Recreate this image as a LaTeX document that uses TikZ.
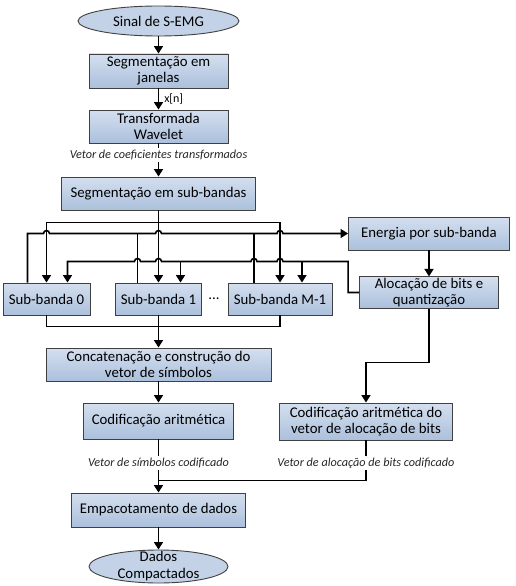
\documentclass[tikz,border=0pt]{standalone}
\usepackage{fontspec}
\setmainfont{Carlito}
\usepackage{xcolor}
\usepackage{tikz}
\usetikzlibrary{positioning}
\usetikzlibrary{arrows.meta, shapes.geometric, calc}

\definecolor{caixaTopo}{HTML}{D4DFEF}
\definecolor{caixaBase}{HTML}{ABC0DC}
\definecolor{elipse}{HTML}{C3D2E7}
\definecolor{borda}{HTML}{404040}

\tikzset{
    bloco/.style={draw=borda, line width=0.9pt, top color=caixaTopo, bottom color=caixaBase,
        align=center, inner sep=1pt, font=\fontsize{14.8}{16.5}\selectfont},
    terminal/.style={ellipse, draw=borda, line width=0.9pt, fill=elipse, align=center,
        inner sep=0pt, font=\fontsize{14.8}{16.5}\selectfont},
    rotulo/.style={font=\fontsize{12.2}{13}\selectfont\itshape, inner sep=2pt, text=black!85},
    seta/.style={line width=1.6pt, -{Triangle[length=7.5pt,width=9pt]}},
    linha/.style={line width=1.6pt},
}

\begin{document}
\begin{tikzpicture}[x=1pt,y=-1pt]
    \useasboundingbox (0,0) rectangle (515,586);

    % coluna principal
    \node[terminal, minimum width=161pt, minimum height=30pt] (sinal) at (158.5,21) {Sinal de S-EMG};
    \node[bloco, minimum width=139pt, minimum height=34pt] (janelas) at (158.5,71) {Segmentação em\\janelas};
    \node[bloco, minimum width=139pt, minimum height=33pt] (wavelet) at (158.5,126.5) {Transformada\\Wavelet};
    \node[rotulo] (coef) at (158.5,155) {Vetor de coeficientes transformados};
    \node[bloco, minimum width=194pt, minimum height=33pt] (subbandas) at (158.5,193.5) {Segmentação em sub-bandas};

    % sub-bandas
    \node[bloco, minimum width=87pt, minimum height=32pt] (sb0) at (46.5,299) {Sub-banda 0};
    \node[bloco, minimum width=86pt, minimum height=32pt] (sb1) at (158.5,299) {Sub-banda 1};
    \node[font=\fontsize{14.8}{16.5}\selectfont] (pontos) at (214,299) {...};
    \node[bloco, minimum width=104pt, minimum height=32pt] (sbM) at (280,299) {Sub-banda M-1};

    % ramo da direita
    \node[bloco, minimum width=161pt, minimum height=33pt] (energia) at (429,233.5) {Energia por sub-banda};
    \node[bloco, minimum width=139pt, minimum height=31pt] (alocacao) at (429,292.5) {Alocação de bits e\\quantização};

    \node[bloco, minimum width=225pt, minimum height=33pt] (concat) at (158.5,364.5) {Concatenação e construção do\\vetor de símbolos};
    \node[bloco, minimum width=150pt, minimum height=36pt] (codar) at (158.5,421) {Codificação aritmética};
    \node[bloco, minimum width=173pt, minimum height=37pt] (codbits) at (366,421.5) {Codificação aritmética do\\vetor de alocação de bits};
    \node[rotulo] (vsimb) at (158.5,463) {Vetor de símbolos codificado};
    \node[rotulo] (vbits) at (366,463) {Vetor de alocação de bits codificado};
    \node[bloco, minimum width=174pt, minimum height=34pt] (empac) at (158.5,510) {Empacotamento de dados};
    \node[terminal, minimum width=139pt, minimum height=33pt,
        label={[font=\fontsize{14.8}{17}\selectfont, align=center]center:Dados\\Compactados}] (dados) at (158.5,566.5) {};

    % pontos auxiliares
    \coordinate (s0) at ($(sb0.north)+(-19,0)$);
    \coordinate (s1) at ($(sb1.north)+(-21,0)$);
    \coordinate (sM) at ($(sbM.north)+(-26,0)$);
    \coordinate (e0) at ($(sb0.north)+(21,0)$);
    \coordinate (e1) at ($(sb1.north)+(22,0)$);
    \coordinate (eM) at ($(sbM.north)+(22,0)$);
    \coordinate (barraA) at ($(subbandas.south)+(0,12)$);
    \coordinate (barraB) at ($(subbandas.south)+(0,51)$);
    \coordinate (barraC) at ($(sb1.south)+(0,11)$);
    \coordinate (juncao) at ($(empac.north)+(0,-12)$);

    % ligacoes
    \draw[seta] (sinal) -- (janelas);
    \draw[seta] (janelas) -- node[right, font=\fontsize{12}{13}\selectfont, inner sep=5pt] {x[n]} (wavelet);
    \draw[linha] (wavelet) -- (coef);
    \draw[seta] (coef) -- (subbandas);

    \draw[seta] (subbandas.south) -- (sb1.north);
    \draw[seta] (barraA) -| (sb0.north);
    \draw[seta] (barraA) -| (sbM.north);

    % energia
    \draw[seta] (s0) |- ($(sb0.north |- energia.west)+(-3,0)$)
        arc[start angle=180, end angle=0, radius=3pt] -- ($(sb1.north |- energia.west)+(-3,0)$)
        arc[start angle=180, end angle=0, radius=3pt] -- ($(sbM.north |- energia.west)+(-3,0)$)
        arc[start angle=180, end angle=0, radius=3pt] -- (energia.west);
    \draw[linha] (s1) -- (s1 |- energia.west);
    \draw[linha] (sM) -- (sM |- energia.west);
    \draw[seta] (energia) -- (alocacao);

    % alocacao de bits
    \draw[seta] (alocacao.west) -| (energia.west |- barraB) -- ($(sbM.north |- barraB)+(3,0)$)
        arc[start angle=0, end angle=180, radius=3pt] -- ($(sM |- barraB)+(3,0)$)
        arc[start angle=0, end angle=180, radius=3pt] -- ($(sb1.north |- barraB)+(3,0)$)
        arc[start angle=0, end angle=180, radius=3pt] -- ($(s1 |- barraB)+(3,0)$)
        arc[start angle=0, end angle=180, radius=3pt] -- (e0 |- barraB) -- (e0);
    \draw[seta] (e1 |- barraB) -- (e1);
    \draw[seta] (eM |- barraB) -- (eM);

    \draw[linha] (sb0.south) |- (barraC) -| (sbM.south);
    \draw[seta] (sb1.south) -- (concat.north);
    \draw[seta] (concat) -- (codar);
    \draw[seta] (alocacao.south) -- ++(0,54) -| (codbits.north);

    \draw[linha] (codar) -- (vsimb);
    \draw[linha] (codbits) -- (vbits);
    \draw[seta] (vsimb) -- (empac);
    \draw[linha] (vbits.south) |- (juncao);
    \draw[seta] (empac) -- (dados);
\end{tikzpicture}
\end{document}
